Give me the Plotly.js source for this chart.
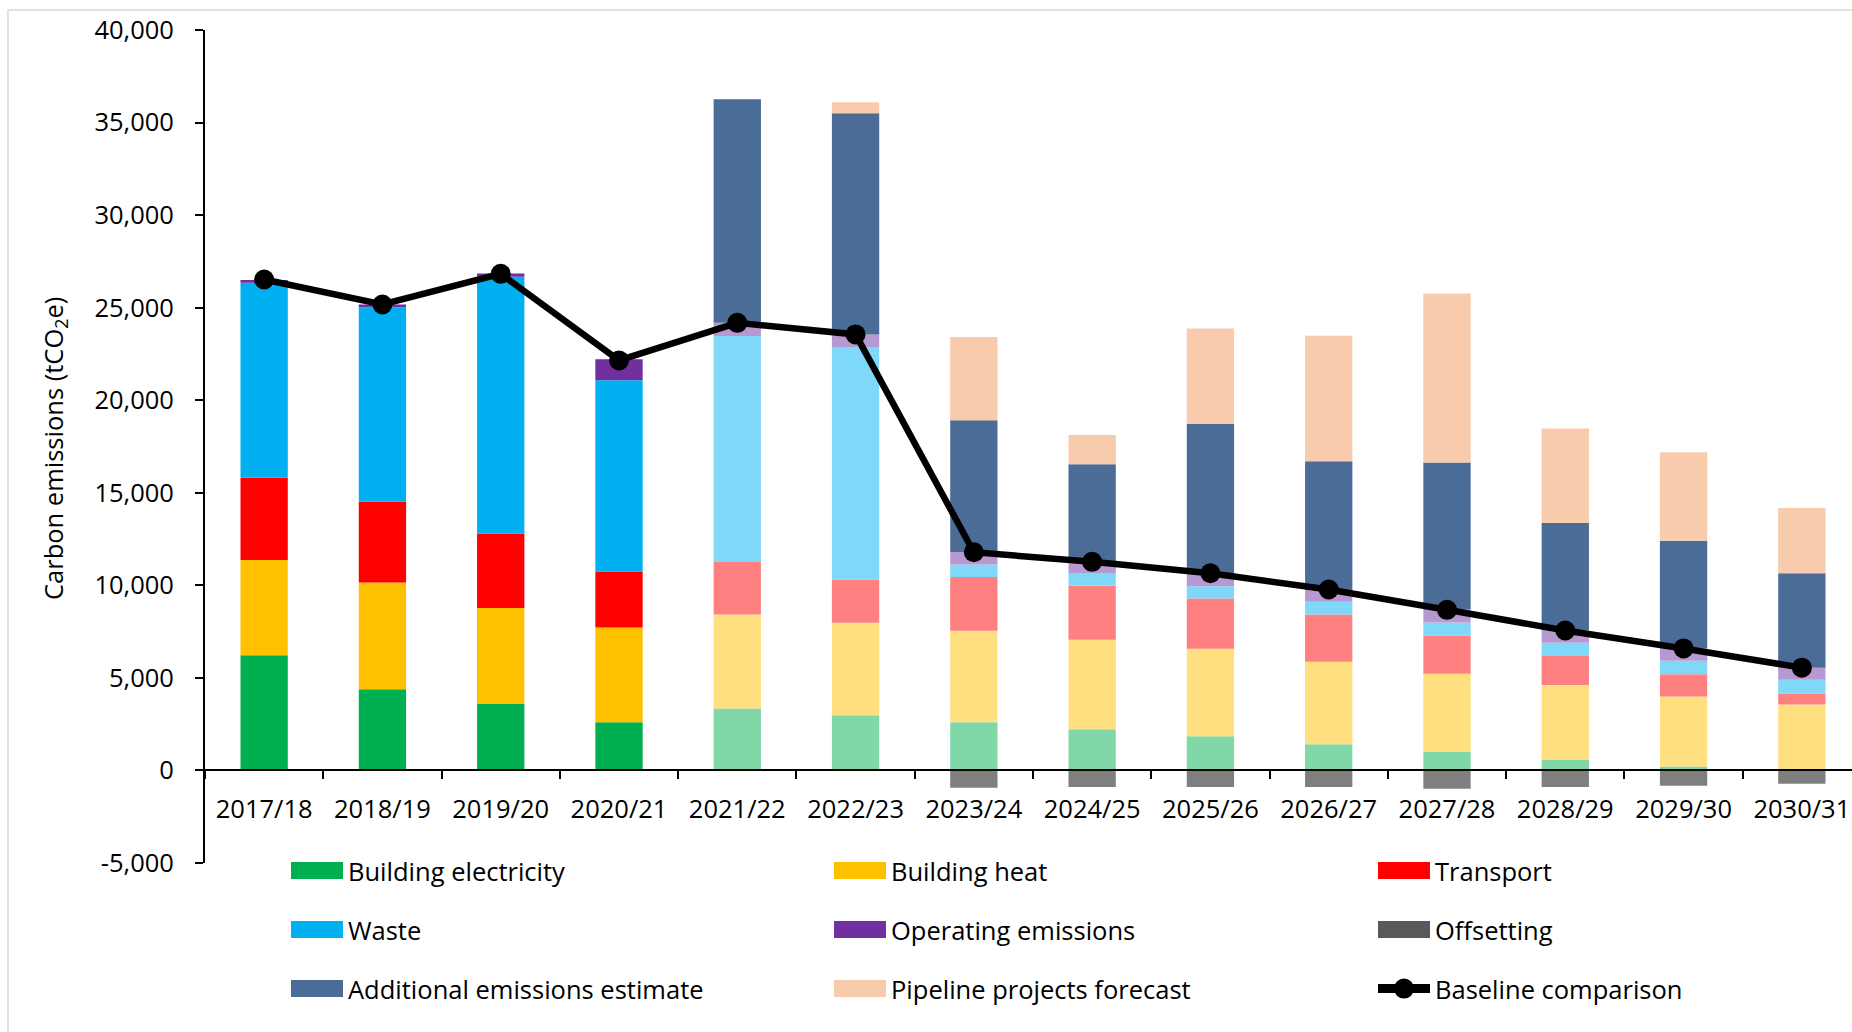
<!DOCTYPE html>
<html>
<head>
<meta charset="utf-8">
<script src="https://cdn.plot.ly/plotly-3.0.1.min.js"></script>
<style>
  html, body { margin: 0; padding: 0; overflow: hidden; background: #ffffff; }
  #chart { width: 1862px; height: 1032px; }
</style>
</head>
<body>
<div id="chart"></div>
<script>
// ---------- data ----------
const years = ['2017/18','2018/19','2019/20','2020/21','2021/22','2022/23','2023/24','2024/25','2025/26','2026/27','2027/28','2028/29','2029/30','2030/31'];
const buildingElectricity = [6217, 4382, 3611, 2603, 3342, 2981, 2603, 2226, 1849, 1418, 1006, 593, 216, 0];
const buildingHeat        = [5156, 5768, 5159, 5121, 5083, 4996, 4943, 4835, 4727, 4457, 4222, 4026, 3773, 3557];
const transport           = [4437, 4366, 4021, 3018, 2840, 2336, 2910, 2910, 2711, 2550, 2065, 1562, 1202, 593];
const waste               = [10530, 10511, 13874, 10333, 12199, 12557, 663, 701, 666, 684, 700, 718, 738, 755];
const operatingEmissions  = [160, 145, 177, 1132, 720, 684, 668, 608, 665, 641, 707, 680, 691, 647];
const offsetting          = [0, 0, 0, 0, 0, 0, -933, -900, -890, -900, -986, -900, -825, -717];
const additionalEstimate  = [0, 0, 0, 0, 12072, 11947, 7132, 5267, 8102, 6959, 7937, 5787, 5793, 5104];
const pipelineForecast    = [0, 0, 0, 0, 0, 593, 4490, 1580, 5158, 6774, 9127, 5105, 4781, 3520];
const baselineComparison  = [26520, 25170, 26826, 22150, 24180, 23554, 11787, 11270, 10650, 9772, 8678, 7562, 6592, 5552];

const yTickVals = [-5000, 0, 5000, 10000, 15000, 20000, 25000, 30000, 35000, 40000];
const yTickText = ['-5,000', '0', '5,000', '10,000', '15,000', '20,000', '25,000', '30,000', '35,000', '40,000'];

// ---------- styling ----------
const FONT = 'Open Sans, Noto Sans, sans-serif';
const nActual = 4; // first four years drawn in full colour, later years lighter
function colours(full, light) { return years.map((_, i) => i < nActual ? full : light); }

const W = 1862, H = 1032;
const M = { l: 205, r: 1, t: 30, b: 169 };
const plotW = W - M.l - M.r, plotH = H - M.t - M.b;
const px = x => (x - M.l) / plotW;           // pixel x -> paper x
const py = y => (H - M.b - y) / plotH;       // pixel y -> paper y

function barTrace(name, values, colorArr, legendId) {
  return {
    type: 'bar', name: name, x: years, y: values,
    marker: { color: colorArr, line: { width: 0 } },
    legend: legendId, hoverinfo: 'skip'
  };
}

const traces = [
  barTrace('Building electricity', buildingElectricity, colours('#00B050', '#80D8A8'), 'legend'),
  barTrace('Building heat', buildingHeat, colours('#FFC000', '#FFDF80'), 'legend2'),
  barTrace('Transport', transport, colours('#FF0000', '#FF8080'), 'legend3'),
  barTrace('Waste', waste, colours('#00B0F0', '#80D8F8'), 'legend4'),
  barTrace('Operating emissions', operatingEmissions, colours('#7030A0', '#B898D0'), 'legend5'),
  barTrace('Offsetting', offsetting, years.map((_, i) => i === 0 ? '#595959' : '#7F7F7F'), 'legend6'),
  barTrace('Additional emissions estimate', additionalEstimate, years.map(() => '#4B6C97'), 'legend7'),
  barTrace('Pipeline projects forecast', pipelineForecast, years.map(() => '#F8CBAD'), 'legend8'),
  {
    type: 'scatter', mode: 'lines+markers', name: 'Baseline comparison',
    x: years, y: baselineComparison,
    line: { color: '#000000', width: 6.5 },
    marker: { color: '#000000', size: 20 },
    legend: 'legend9', hoverinfo: 'skip'
  }
];

// legend positions (pixel coordinates of item start / row centre)
const legendCols = [286, 829, 1373];
const legendRows = [871, 930, 989];
const legendFont = { family: FONT, size: 25.5, color: '#000000' };
function legendAt(idx) {
  const c = idx % 3, r = Math.floor(idx / 3);
  return {
    x: px(legendCols[c]), y: py(legendRows[r]), xanchor: 'left', yanchor: 'middle',
    orientation: 'h', font: legendFont, itemwidth: 52, bgcolor: 'rgba(0,0,0,0)',
    borderwidth: 0, valign: 'middle', itemclick: false, itemdoubleclick: false
  };
}

const layout = {
  width: W, height: H,
  margin: { l: M.l, r: M.r, t: M.t, b: M.b, autoexpand: false },
  paper_bgcolor: '#ffffff', plot_bgcolor: 'rgba(0,0,0,0)',
  font: { family: FONT, size: 25.5, color: '#000000' },
  barmode: 'relative', bargap: 0.6,
  showlegend: true,
  hovermode: false,
  xaxis: {
    type: 'category', anchor: 'free', position: 5000 / 45000,
    range: [-0.5, years.length - 0.5], autorange: false,
    showline: true, linecolor: '#000000', linewidth: 2,
    ticks: 'outside', tickson: 'boundaries', ticklen: 8, tickwidth: 2, tickcolor: '#000000',
    tickfont: { family: FONT, size: 25.5, color: '#000000' },
    showgrid: false, zeroline: false, fixedrange: true, ticklabelstandoff: 16
  },
  yaxis: {
    range: [-5000, 40000], autorange: false, tickvals: yTickVals, ticktext: yTickText,
    showline: true, linecolor: '#000000', linewidth: 2,
    ticks: 'outside', ticklen: 8, tickwidth: 2, tickcolor: '#000000',
    tickfont: { family: FONT, size: 25.5, color: '#000000' },
    showgrid: false, zeroline: false, fixedrange: true, ticklabelstandoff: 16
  },
  annotations: [{
    text: 'Carbon emissions (tCO<sub>2</sub>e)', textangle: -90,
    xref: 'paper', yref: 'paper', x: px(55), y: py(449),
    xanchor: 'center', yanchor: 'middle', showarrow: false,
    font: { family: FONT, size: 25.5, color: '#000000' }
  }],
  shapes: [{
    type: 'rect', xref: 'paper', yref: 'paper', layer: 'below',
    x0: px(8), x1: px(1900), y0: py(1100), y1: py(10),
    line: { color: '#D9D9D9', width: 1.5 }, fillcolor: 'rgba(0,0,0,0)'
  }]
};
['legend','legend2','legend3','legend4','legend5','legend6','legend7','legend8','legend9'].forEach((id, i) => {
  layout[id] = legendAt(i);
});

Plotly.newPlot('chart', traces, layout, { staticPlot: true, displayModeBar: false }).then(() => {
  // enlarge the bar legend swatches to the wide rectangles of the original
  document.querySelectorAll('g.legendpoints path').forEach(p => {
    const d = (p.getAttribute('d') || '').replace(/\s/g, '');
    if (d === 'M6,6H-6V-6H6Z') p.setAttribute('d', 'M26,8.5H-26V-8.5H26Z');
  });
  // thicker line and larger marker in the baseline legend entry
  document.querySelectorAll('g.legendlines path').forEach(p => {
    p.style.strokeWidth = '9px';
  });
  document.querySelectorAll('g.legendsymbols path.scatterpts').forEach(p => {
    p.setAttribute('d', 'M10,0A10,10 0 1,1 0,-10A10,10 0 0,1 10,0Z');
  });
});
</script>
</body>
</html>
